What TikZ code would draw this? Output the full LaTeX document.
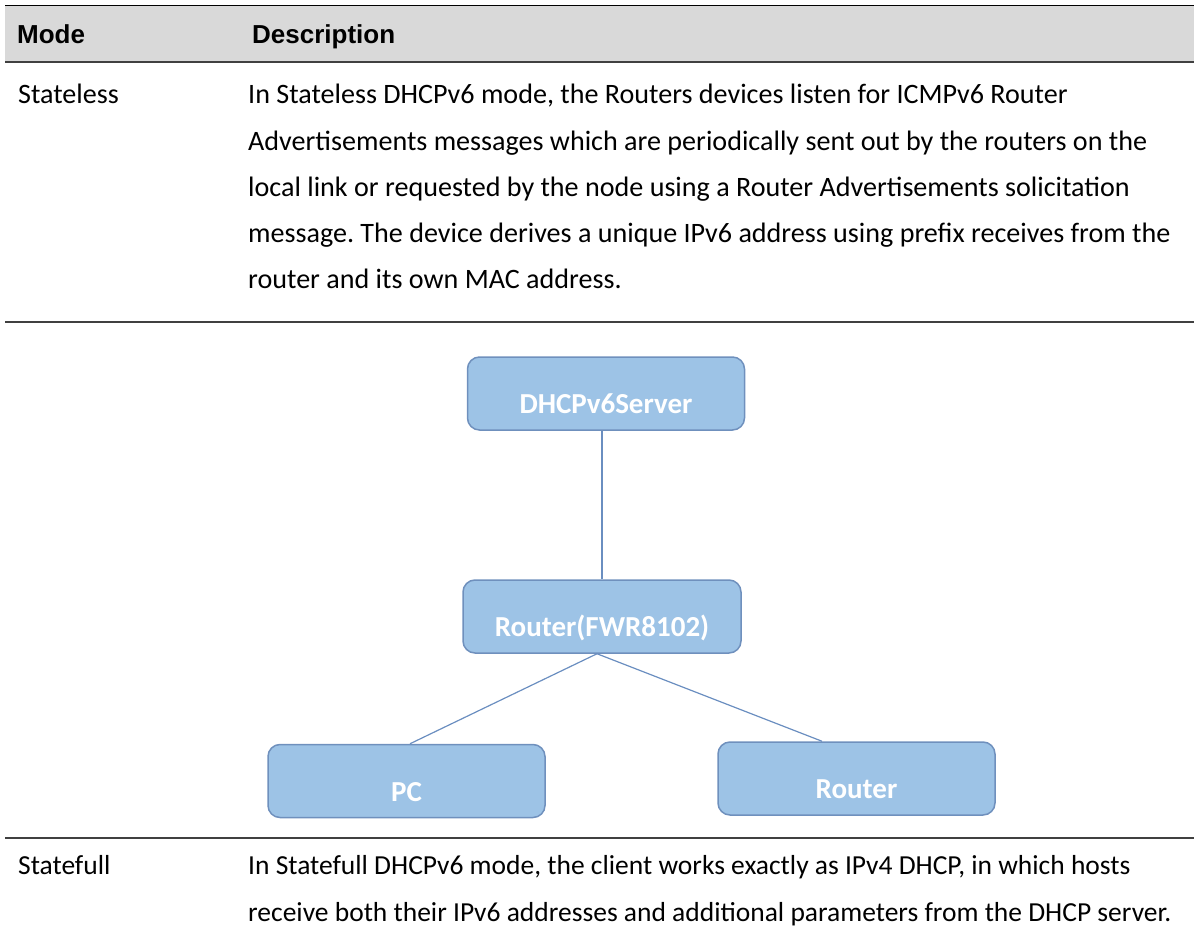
\documentclass[tikz,border=0pt]{standalone}
\usepackage{fontspec}
\setmainfont{Carlito}
\newfontfamily\hdrfont{Liberation Sans}
\frenchspacing
\definecolor{boxfill}{HTML}{9DC3E6}
\definecolor{boxline}{HTML}{6F90BD}
\definecolor{connline}{HTML}{6A8EC0}
\definecolor{hdrgray}{HTML}{D9D9D9}
\definecolor{rulegray}{HTML}{404040}
\tikzset{
  body/.style={anchor=base west, inner sep=0pt, font=\fontsize{28.1}{32}\selectfont, text=black},
  bodyb/.style={anchor=base west, inner sep=0pt, font=\fontsize{27.5}{32}\selectfont, text=black},
  hdr/.style={anchor=base west, inner sep=0pt, font=\hdrfont\bfseries\fontsize{26}{30}\selectfont, text=black},
  netbox/.style={draw=boxline, line width=1.5pt, fill=boxfill, rounded corners=12pt,
    minimum height=73pt, text=white, font=\bfseries\fontsize{29}{33}\selectfont,
    text height=40pt, text depth=0pt, inner sep=0pt},
  conn/.style={draw=connline, line width=1.2pt},
  rulethin/.style={draw=black, line width=1pt},
  rulethick/.style={draw=rulegray, line width=1.6pt}
}
\begin{document}
\begin{tikzpicture}[x=1pt,y=-1pt]
\useasboundingbox (0,0) rectangle (1194,939);
% header band
\fill[hdrgray] (5,6) rectangle (1194,62);
\draw[rulethin] (5,6) -- (1194,6);
\draw[rulethick] (5,62) -- (1194,62);
\node[hdr] (hmode) at (17,44) {Mode};
\node[hdr] (hdesc) at (252,44) {Description};
% stateless row
\node[body] (sl) at (18,104) {Stateless};
\node[body] (sl1) at (248,104) {In Stateless DHCPv6 mode, the Routers devices listen for ICMPv6 Router};
\node[body] (sl2) at (248,150) {Advertisements messages which are periodically sent out by the routers on the};
\node[body] (sl3) at (248,196) {local link or requested by the node using a Router Advertisements solicitation};
\node[body] (sl4) at (248,242) {message. The device derives a unique IPv6 address using prefix receives from the};
\node[body] (sl5) at (248,288) {router and its own MAC address.};
\draw[rulethick] (5,322) -- (1194,322);
% diagram
\node[netbox, minimum width=277pt] (dhcp) at (606,393.5) {DHCPv6Server};
\node[netbox, minimum width=278pt] (r1) at (602,616.5) {Router(FWR8102)};
\node[netbox, minimum width=277pt] (pc) at (406.5,781) {PC};
\node[netbox, minimum width=277pt] (rt) at (856.5,778.5) {Router};
\draw[conn] ([xshift=-4pt]dhcp.south) -- (r1.north);
\draw[conn] ([xshift=-5pt]r1.south) -- ([xshift=3.5pt]pc.north);
\draw[conn] ([xshift=-5pt]r1.south) -- ([xshift=-34.5pt]rt.north);
\draw[rulethick] (5,838) -- (1194,838);
% statefull row
\node[bodyb] (sf) at (18,874) {Statefull};
\node[bodyb] (sf1) at (248,874) {In Statefull DHCPv6 mode, the client works exactly as IPv4 DHCP, in which hosts};
\node[bodyb] (sf2) at (248,921) {receive both their IPv6 addresses and additional parameters from the DHCP server.};
\end{tikzpicture}
\end{document}
